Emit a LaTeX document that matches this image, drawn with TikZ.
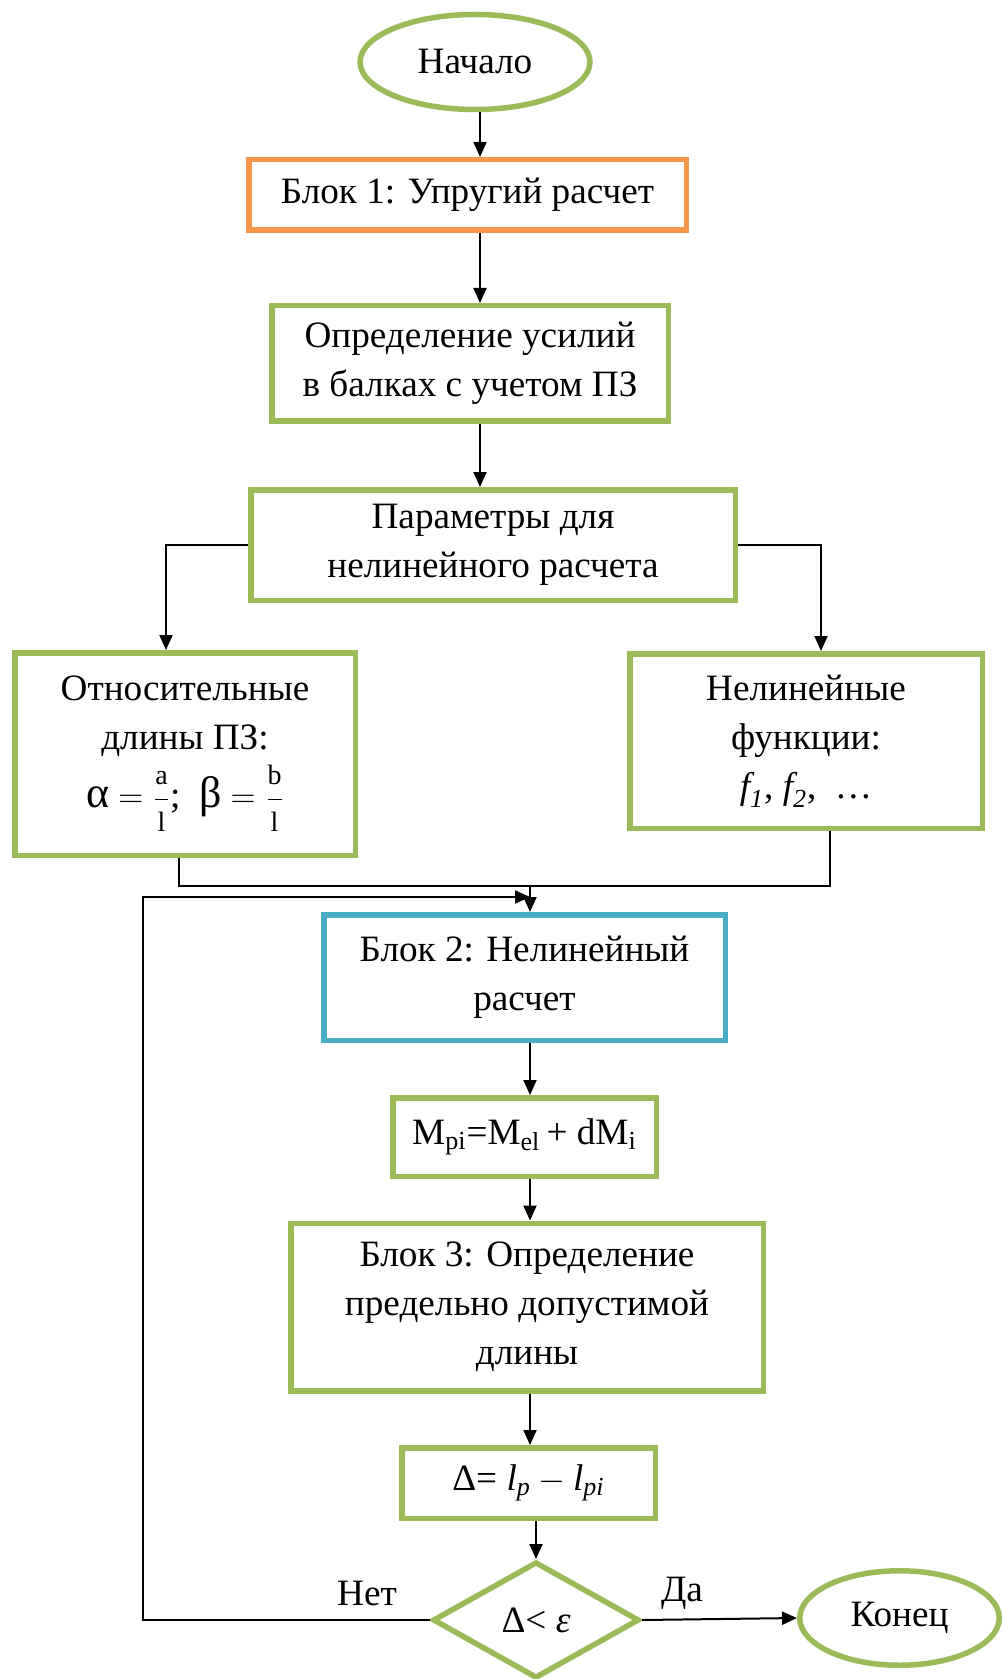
\documentclass[tikz,border=0pt]{standalone}
\usepackage{fontspec}
\usepackage{amsmath}
\setmainfont{Liberation Serif}
\usetikzlibrary{arrows.meta, shapes.geometric}
\definecolor{leaf}{RGB}{155,187,89}
\definecolor{peach}{RGB}{247,150,70}
\definecolor{aqua}{RGB}{75,172,198}
\newcommand\ratio[2]{\dfrac{\text{\fontsize{14}{14}\selectfont #1}}{\text{\fontsize{14}{14}\selectfont #2}}}
\newcommand\greekbig[1]{{\fontsize{22}{22}\selectfont #1}}
\tikzset{
  box/.style={draw=leaf, line width=2.75pt, rectangle, align=center, inner sep=0pt},
  oval/.style={draw=leaf, line width=2.75pt, ellipse, inner sep=0pt},
  rhomb/.style={draw=leaf, line width=2.75pt, diamond, inner sep=0pt},
  link/.style={line width=1pt, -{Triangle[length=7.5pt,width=6.5pt]}},
  wire/.style={line width=1pt}
}
\begin{document}
\begin{tikzpicture}[x=0.5pt, y=-0.5pt, font=\fontsize{18.6}{24.5}\selectfont]
    \useasboundingbox (0,0) rectangle (1002,1679);

    \node[oval, minimum width=115pt, minimum height=47.5pt] (start) at (475,62) {Начало};
    \node[box, draw=peach, minimum width=218.75pt, minimum height=35.25pt] (blok1) at (467.5,195) {Блок 1: Упругий расчет};
    \node[box, minimum width=198.25pt, minimum height=57.75pt] (opred) at (470,363.5) {Определение усилий\\в балках с учетом ПЗ};
    \node[box, minimum width=242.25pt, minimum height=55.25pt] (param) at (493,545) {Параметры для\\нелинейного расчета};
    \node[box, minimum width=170.25pt, minimum height=101.25pt] (otnos) at (185,754)
        {Относительные\\длины ПЗ:\\[3pt] \greekbig{α} $=\ratio{a}{l}$;\ \ \greekbig{β} $=\ratio{b}{l}$};
    \node[box, minimum width=176.25pt, minimum height=87.25pt] (nelin) at (806,741)
        {Нелинейные\\функции:\\$\textit{f}_{\textit{1}}$, $\textit{f}_{\textit{2}}$,\ \ …};
    \node[box, draw=aqua, minimum width=200.75pt, minimum height=62.75pt] (blok2) at (524.5,977.5) {Блок 2: Нелинейный\\расчет};
    \node[box, minimum width=131.75pt, minimum height=39.25pt] (mpi) at (524.5,1137)
        {M\textsubscript{pi}=M\textsubscript{el}\,+ dM\textsubscript{i}};
    \node[box, minimum width=236.25pt, minimum height=83.75pt] (blok3) at (527,1307) {Блок 3: Определение\\предельно допустимой\\длины};
    \node[box, minimum width=126.75pt, minimum height=35.25pt] (delta) at (528.5,1483)
        {Δ= $\textit{l}_{\textit{p}} - \textit{l}_{\textit{pi}}$};
    \node[rhomb, minimum width=103.25pt, minimum height=58.25pt] (dia) at (536,1620) {Δ< \textit{ε}};
    \node[oval, minimum width=99.75pt, minimum height=47.25pt] (end) at (899.5,1618) {Конец};

    \node (net) at (367,1593) {Нет};
    \node (da) at (682,1593) {Да};

    \coordinate (ax) at (480,0);
    \coordinate (lx) at (166,0);
    \coordinate (rx) at (821,0);
    \coordinate (ox) at (179,0);
    \coordinate (nx) at (830,0);
    \coordinate (mrg) at (530,886);
    \coordinate (back) at (143,897);
    \coordinate (tip) at (530,897);

    \draw[link] (start.south -| ax) -- (blok1.north -| ax);
    \draw[link] (blok1.south -| ax) -- (opred.north -| ax);
    \draw[link] (opred.south -| ax) -- (param.north -| ax);
    \draw[link] (param.west) -| (otnos.north -| lx);
    \draw[link] (param.east) -| (nelin.north -| rx);
    \draw[wire] (otnos.south -| ox) |- (mrg) -| (nelin.south -| nx);
    \draw[link] (mrg) -- (blok2.north -| mrg);
    \draw[link] (dia.west) -| (back) -- (tip);
    \draw[link] (blok2.south -| mrg) -- (mpi.north -| mrg);
    \draw[link] (mpi.south -| mrg) -- (blok3.north -| mrg);
    \draw[link] (blok3.south -| mrg) -- (delta.north -| mrg);
    \draw[link] (delta.south -| dia.north) -- (dia.north);
    \draw[link] (dia.east) -- (end.west);
\end{tikzpicture}
\end{document}
